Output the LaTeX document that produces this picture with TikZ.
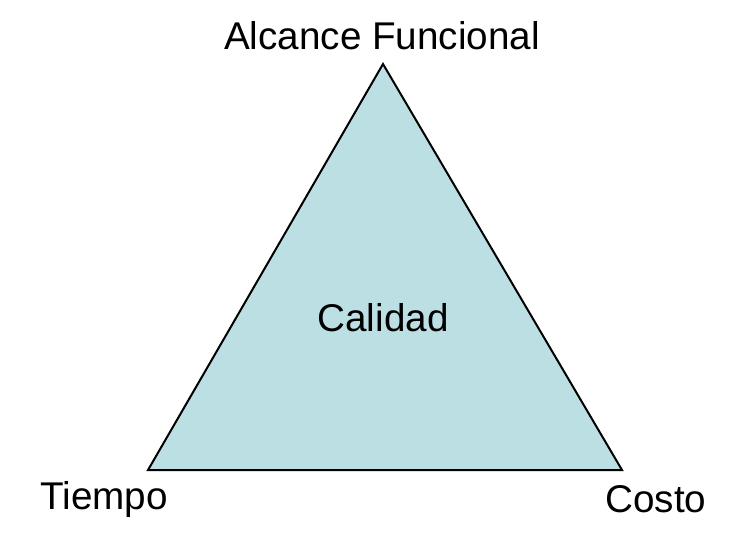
\documentclass[tikz,border=0pt]{standalone}
\usepackage{fontspec}
\setmainfont{Liberation Sans}
\usepackage{tikz}
\usetikzlibrary{positioning}
\definecolor{calidadfill}{HTML}{BBDFE3}

\begin{document}
\begin{tikzpicture}[x=0.75pt,y=-0.75pt,
  lbl/.style={font=\fontsize{29}{34}\selectfont, inner sep=0pt},
  corner/.style={inner sep=0pt, minimum size=0pt}]
  \useasboundingbox (0,0) rectangle (751,536);
  \coordinate (top) at (383,64);
  \coordinate (left) at (148,470);
  \coordinate (right) at (622,470);
  \draw[line width=1.5pt, fill=calidadfill, line join=miter] (top) -- (left) -- (right) -- cycle;
  \node[lbl] (alcance) at (382,36) {Alcance Funcional};
  \node[lbl] (tiempo) at (104,499) {Tiempo};
  \node[lbl] (costo) at (656,499) {Costo};
  \node[lbl] (calidad) at (383,318) {Calidad};
\end{tikzpicture}
\end{document}
